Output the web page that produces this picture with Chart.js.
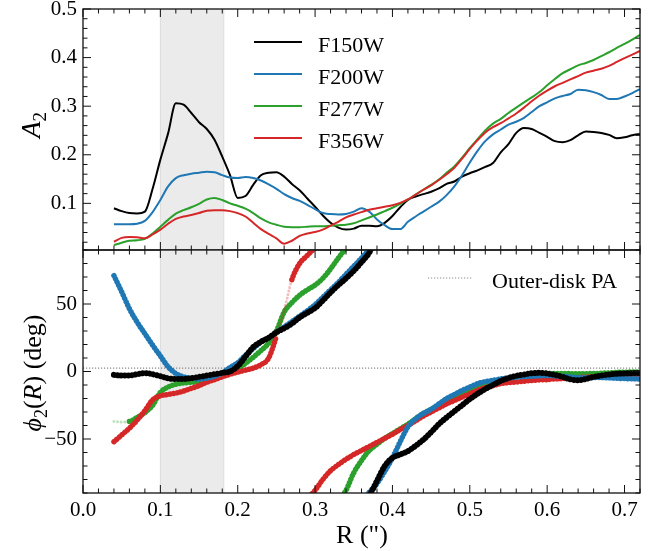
<!DOCTYPE html>
<html>
<head>
<meta charset="utf-8">
<script src="https://cdn.jsdelivr.net/npm/chart.js@4.4.1/dist/chart.umd.min.js"></script>
<style>
  html, body { margin: 0; padding: 0; background: #fff; }
  #wrap { position: relative; width: 663px; height: 551px; }
  canvas { position: absolute; left: 0; }
  #ampChart { top: 0; }
  #phaseChart { top: 249px; }
</style>
</head>
<body>
<div id="wrap">
  <canvas id="ampChart" width="663" height="251"></canvas>
  <canvas id="phaseChart" width="663" height="302"></canvas>
</div>
<script>
// radial sampling grid, arcsec (0.04 ... 0.72)
const radius = Array.from({ length: 69 }, (_, i) => Math.round((0.04 + 0.01 * i) * 100) / 100);

// m=2 Fourier amplitude A2 per filter
const ampF150W = [0.090, 0.084, 0.080, 0.079, 0.083, 0.130,
  0.190, 0.244, 0.306, 0.303, 0.286, 0.267, 0.253, 0.231, 0.196, 0.158,
  0.111, 0.115, 0.138, 0.158, 0.163, 0.164, 0.155, 0.140, 0.127, 0.110,
  0.093, 0.075, 0.060, 0.050, 0.046, 0.048, 0.054, 0.054, 0.053, 0.060,
  0.074, 0.092, 0.107, 0.114, 0.119, 0.124, 0.131, 0.140, 0.145, 0.155,
  0.162, 0.168, 0.175, 0.183, 0.205, 0.222, 0.245, 0.255, 0.253, 0.245,
  0.237, 0.228, 0.226, 0.230, 0.240, 0.248, 0.247, 0.245, 0.241, 0.234,
  0.236, 0.240, 0.243];
const ampF200W = [0.057, 0.057, 0.057, 0.058, 0.064, 0.082,
  0.107, 0.135, 0.152, 0.158, 0.161, 0.163, 0.165, 0.164, 0.158, 0.153,
  0.152, 0.154, 0.152, 0.147, 0.139, 0.130, 0.119, 0.111, 0.105, 0.097,
  0.088, 0.080, 0.078, 0.077, 0.078, 0.083, 0.090, 0.083, 0.067, 0.055,
  0.047, 0.047, 0.062, 0.073, 0.083, 0.093, 0.103, 0.117, 0.135, 0.158,
  0.184, 0.208, 0.228, 0.242, 0.252, 0.262, 0.268, 0.276, 0.288, 0.300,
  0.308, 0.316, 0.321, 0.325, 0.334, 0.333, 0.329, 0.323, 0.315, 0.315,
  0.320, 0.327, 0.335];
const ampF277W = [0.014, 0.019, 0.023, 0.024, 0.027, 0.038,
  0.052, 0.066, 0.079, 0.086, 0.092, 0.099, 0.108, 0.111, 0.107, 0.100,
  0.095, 0.089, 0.080, 0.069, 0.061, 0.056, 0.052, 0.051, 0.051, 0.052,
  0.053, 0.053, 0.054, 0.055, 0.056, 0.059, 0.065, 0.071, 0.077, 0.084,
  0.091, 0.099, 0.108, 0.118, 0.128, 0.138, 0.149, 0.163, 0.176, 0.194,
  0.214, 0.232, 0.250, 0.264, 0.274, 0.286, 0.297, 0.308, 0.318, 0.329,
  0.343, 0.356, 0.368, 0.376, 0.384, 0.389, 0.395, 0.403, 0.411, 0.420,
  0.428, 0.437, 0.447];
const ampF356W = [0.021, 0.029, 0.031, 0.030, 0.028, 0.036,
  0.046, 0.058, 0.068, 0.073, 0.076, 0.080, 0.085, 0.086, 0.086, 0.084,
  0.080, 0.073, 0.060, 0.047, 0.037, 0.028, 0.017, 0.023, 0.033, 0.038,
  0.041, 0.046, 0.054, 0.062, 0.071, 0.077, 0.082, 0.087, 0.090, 0.093,
  0.096, 0.101, 0.108, 0.118, 0.128, 0.137, 0.148, 0.160, 0.173, 0.192,
  0.212, 0.230, 0.246, 0.257, 0.265, 0.275, 0.285, 0.297, 0.310, 0.322,
  0.332, 0.341, 0.348, 0.355, 0.362, 0.369, 0.373, 0.377, 0.383, 0.391,
  0.399, 0.406, 0.414];

// m=2 phase angle, deg, kept unwrapped (folded into [-90, 90] when drawn)
const phiF150W = [-2.5, -3, -3, -2, -1.2, -2,
  -3.5, -5, -5.5, -5.5, -5, -4, -3, -2, -1, 0,
  4, 11, 18, 22, 25, 29, 32, 35.5, 40, 43.5,
  47, 52.5, 58.5, 64, 69, 74.5, 81, 88, 99, 110,
  116, 118.5, 121, 125, 129.5, 135, 141, 146, 150.5, 155,
  159.5, 163.5, 167, 170, 173, 175.2, 176.8, 177.8, 178.7, 179,
  178.5, 177.5, 176, 174.2, 173.5, 174.5, 176, 177, 177.8, 178.3,
  178.6, 178.8, 178.8];
const phiF200W = [71, 59, 46.5, 36.5, 28, 19.5,
  11.5, 3.5, -1.5, -4, -5, -5.5, -5, -3.5, -1, 3,
  6.5, 12, 17, 22, 25, 29, 33, 37, 41, 45,
  49.5, 55, 60.5, 66, 72, 78, 84, 90.5, 97, 106,
  116, 128, 139, 145, 149, 152, 156, 160, 163, 166,
  168.5, 171, 172.5, 173.5, 174.5, 175.2, 175.8, 176.2, 176.5, 176.8,
  177, 176.8, 176.5, 176, 175.5, 175.3, 175.5, 175.5, 175.3, 175,
  174.8, 174.6, 174.5];
const phiF277W = [-37, -37.5, -37, -34, -30.5, -25,
  -15.5, -11.5, -9.5, -8.5, -8, -7.5, -6, -4.5, -3, -1,
  2, 6, 10.5, 15.5, 21, 30, 44, 51, 56.5, 60.5,
  64, 69, 76, 84, 92, 105, 114, 121.5, 126, 130.5,
  134, 137.5, 141, 145, 149, 152, 155, 157.5, 160.5, 163,
  166, 168.5, 170.5, 172, 173.5, 174.8, 176, 177, 177.5, 178,
  178.5, 178.5, 178.5, 178.4, 178.3, 178.4, 178.5, 178.7, 179, 179.3,
  179.5, 179.6, 179.7];
const phiF356W = [-52, -47, -42, -36, -29, -21,
  -18, -17, -16, -14.5, -12.5, -10.5, -8, -6, -4, -2,
  -0.5, 1, 2.5, 5, 10, 26, 45, 68, 80, 86,
  92, 100, 106.5, 111, 115, 118.5, 121.5, 124.5, 127.5, 130.5,
  133.5, 137, 140, 143.5, 147, 150, 153, 156, 158.5, 161,
  163.5, 166, 168, 169.5, 171, 171.7, 172.2, 172.8, 173.3, 173.8,
  174, 174.5, 174.8, 175.2, 175.6, 175.8, 176, 176.2, 176.5, 176.7,
  176.8, 177, 177];

const filters = ['F150W', 'F200W', 'F277W', 'F356W'];
const ampSeries = [ampF150W, ampF200W, ampF277W, ampF356W];
const phiSeries = [phiF150W, phiF200W, phiF277W, phiF356W];
const barRange = [0.1, 0.182];   // shaded radial interval
const outerDiskPA = 2.5;         // deg
const faintAmp = 0.02;           // phases below this A2 are drawn faint

const colors = ['#000000', '#1f77b4', '#2ca02c', '#d62728'];
const SERIF = '"Liberation Serif", "Times New Roman", "DejaVu Serif", serif';
Chart.defaults.font.family = SERIF;
Chart.defaults.color = '#000';

function fade(hex, a) {
  const n = parseInt(hex.slice(1), 16);
  return `rgba(${n >> 16}, ${(n >> 8) & 255}, ${n & 255}, ${a})`;
}

function tickValues(min, max, step) {
  const out = [];
  for (let k = Math.ceil(min / step - 1e-9); k * step <= max + 1e-9; k++) {
    out.push(Math.round(k * step * 1e6) / 1e6);
  }
  return out;
}

// keep the plot box fixed: no extra room for overhanging tick labels
function fixBox(s, size) {
  if (s.isHorizontal()) s.height = size; else s.width = size;
  s.paddingTop = 0; s.paddingBottom = 0;
  s.paddingLeft = 0; s.paddingRight = 0;
}

// grey band behind the data
const shadePlugin = {
  id: 'shade',
  beforeDatasetsDraw(chart) {
    const { ctx, chartArea: a, scales: { x } } = chart;
    const x0 = x.getPixelForValue(barRange[0]);
    const x1 = x.getPixelForValue(barRange[1]);
    ctx.save();
    ctx.fillStyle = '#ebebeb';
    ctx.fillRect(x0, a.top, x1 - x0, a.bottom - a.top);
    ctx.strokeStyle = '#dcdcdc';
    ctx.lineWidth = 1;
    ctx.beginPath();
    ctx.moveTo(x0, a.top); ctx.lineTo(x0, a.bottom);
    ctx.moveTo(x1, a.top); ctx.lineTo(x1, a.bottom);
    ctx.stroke();
    ctx.restore();
  }
};

// closed frame with inward major/minor ticks on every side
const framePlugin = {
  id: 'frame',
  afterDatasetsDraw(chart, args, opts) {
    const { ctx, chartArea: a, scales: { x, y } } = chart;
    ctx.save();
    ctx.strokeStyle = '#111';
    ctx.lineWidth = 1;
    ctx.beginPath();
    tickValues(x.min, x.max, opts.xMinor).forEach(v => {
      const major = Math.abs(v / opts.xMajor - Math.round(v / opts.xMajor)) < 1e-6;
      const len = major ? 8 : 4.5;
      const px = x.getPixelForValue(v);
      ctx.moveTo(px, a.bottom); ctx.lineTo(px, a.bottom - len);
      ctx.moveTo(px, a.top); ctx.lineTo(px, a.top + len);
    });
    tickValues(y.min, y.max, opts.yMinor).forEach(v => {
      const major = Math.abs(v / opts.yMajor - Math.round(v / opts.yMajor)) < 1e-6;
      const len = major ? 8 : 4.5;
      const py = y.getPixelForValue(v);
      ctx.moveTo(a.left, py); ctx.lineTo(a.left + len, py);
      ctx.moveTo(a.right, py); ctx.lineTo(a.right - len, py);
    });
    ctx.stroke();
    ctx.lineWidth = 1.3;
    ctx.strokeRect(a.left, a.top, a.right - a.left, a.bottom - a.top);
    ctx.restore();
  }
};

// legend inside the plot, entries taken from labelled datasets
const insetLegend = {
  id: 'insetLegend',
  afterDraw(chart, args, o) {
    const { ctx } = chart;
    const items = chart.data.datasets.filter(d => d.label);
    ctx.save();
    ctx.font = `${o.size}px ${SERIF}`;
    ctx.textBaseline = 'alphabetic';
    items.forEach((d, i) => {
      const yy = o.y + i * o.dy;
      ctx.strokeStyle = d.borderColor;
      ctx.lineWidth = o.lineWidth;
      ctx.setLineDash(o.dashed ? d.borderDash : []);
      ctx.beginPath();
      ctx.moveTo(o.x0, yy); ctx.lineTo(o.x1, yy);
      ctx.stroke();
      ctx.fillStyle = '#000';
      ctx.fillText(d.label, o.textX, yy + o.baseline);
    });
    ctx.restore();
  }
};

// axis titles with mixed italic / subscript runs
function drawRich(ctx, t) {
  ctx.save();
  ctx.translate(t.x, t.y);
  if (t.rotate) ctx.rotate(-Math.PI / 2);
  const fontOf = p => `${p.italic ? 'italic ' : ''}${p.sub ? Math.round(t.size * 0.7) : t.size}px ${SERIF}`;
  let total = 0;
  const runs = t.parts.map(p => {
    ctx.font = fontOf(p);
    const w = ctx.measureText(p.t).width;
    total += w;
    return { ...p, w };
  });
  let pos = -total / 2;
  ctx.fillStyle = '#000';
  ctx.textBaseline = 'alphabetic';
  runs.forEach(r => {
    ctx.font = fontOf(r);
    ctx.fillText(r.t, pos, r.sub ? t.size * 0.22 : 0);
    pos += r.w;
  });
  ctx.restore();
}
const titlesPlugin = {
  id: 'titles',
  afterDraw(chart, args, o) {
    o.items.forEach(t => drawRich(chart.ctx, t));
  }
};

const tickFont = { family: SERIF, size: 21 };

// upper panel: A2(R)
new Chart(document.getElementById('ampChart'), {
  type: 'line',
  data: {
    datasets: filters.map((f, k) => ({
      label: f,
      data: radius.map((r, i) => ({ x: r, y: ampSeries[k][i] })),
      borderColor: colors[k],
      borderWidth: 2,
      pointRadius: 0,
      cubicInterpolationMode: 'monotone',
      order: 3 - k
    }))
  },
  options: {
    responsive: false,
    animation: false,
    events: [],
    layout: { padding: { top: 9, right: 23, bottom: 1, left: 0 } },
    scales: {
      x: { type: 'linear', min: 0, max: 0.72, display: false },
      y: {
        min: 0.004, max: 0.5,
        grid: { display: false, drawTicks: false },
        border: { display: false },
        afterFit(s) { fixBox(s, 83); },
        afterBuildTicks(s) { s.ticks = tickValues(0.1, 0.5, 0.1).map(v => ({ value: v })); },
        ticks: { padding: 6, font: tickFont, color: '#000', callback: v => v.toFixed(1) }
      }
    },
    plugins: {
      legend: { display: false },
      tooltip: { enabled: false },
      frame: { xMajor: 0.1, xMinor: 0.02, yMajor: 0.1, yMinor: 0.02 },
      insetLegend: { x0: 254, x1: 302, textX: 318, y: 42, dy: 32, baseline: 9.5, size: 22, lineWidth: 2, dashed: false },
      titles: { items: [{ x: 40, y: 125, size: 27, rotate: true, parts: [{ t: 'A', italic: true }, { t: '2', sub: true }] }] }
    }
  },
  plugins: [shadePlugin, framePlugin, insetLegend, titlesPlugin]
});

// lower panel: phase angle, each filter drawn as-is and folded by 180 deg
const phaseOrder = [0, 1, 3, 2];
const phaseSets = [];
filters.forEach((f, k) => {
  [0, -180].forEach(shift => {
    const amp = ampSeries[k];
    const faint = c => amp[c.p0DataIndex] < faintAmp || amp[c.p1DataIndex] < faintAmp;
    phaseSets.push({
      data: radius.map((r, i) => ({ x: r, y: phiSeries[k][i] + shift })),
      borderColor: colors[k],
      borderWidth: k === 0 ? 6 : 5.5,
      borderDash: [0.01, 3.6],
      borderCapStyle: 'round',
      pointRadius: 0,
      cubicInterpolationMode: 'monotone',
      clip: 0,
      order: phaseOrder[k],
      segment: {
        borderColor: c => (faint(c) ? fade(colors[k], 0.3) : undefined),
        borderWidth: c => (faint(c) ? 3 : undefined)
      }
    });
  });
});
phaseSets.push({
  label: 'Outer-disk PA',
  data: [{ x: 0, y: outerDiskPA }, { x: 0.72, y: outerDiskPA }],
  borderColor: '#8a8a8a',
  borderWidth: 1.2,
  borderDash: [1.2, 1.8],
  pointRadius: 0,
  order: 9
});

new Chart(document.getElementById('phaseChart'), {
  type: 'line',
  data: { datasets: phaseSets },
  options: {
    responsive: false,
    animation: false,
    events: [],
    layout: { padding: { top: 1, right: 23, bottom: 0, left: 0 } },
    scales: {
      x: {
        type: 'linear', min: 0, max: 0.72,
        grid: { display: false, drawTicks: false },
        border: { display: false },
        afterFit(s) { fixBox(s, 58); },
        afterBuildTicks(s) { s.ticks = tickValues(0, 0.7, 0.1).map(v => ({ value: v })); },
        ticks: { padding: 5, font: tickFont, color: '#000', maxRotation: 0, autoSkip: false, callback: v => v.toFixed(1) }
      },
      y: {
        min: -90, max: 90,
        grid: { display: false, drawTicks: false },
        border: { display: false },
        afterFit(s) { fixBox(s, 83); },
        afterBuildTicks(s) { s.ticks = [-50, 0, 50].map(v => ({ value: v })); },
        ticks: { padding: 6, font: tickFont, color: '#000', callback: v => (v < 0 ? '\u2212' + Math.abs(v) : String(v)) }
      }
    },
    plugins: {
      legend: { display: false },
      tooltip: { enabled: false },
      frame: { xMajor: 0.1, xMinor: 0.02, yMajor: 50, yMinor: 10 },
      insetLegend: { x0: 428, x1: 473, textX: 492, y: 29, dy: 0, baseline: 10, size: 22, lineWidth: 1.2, dashed: true },
      titles: { items: [
        { x: 41, y: 124, size: 26, rotate: true, parts: [
          { t: '\u03d5', italic: true }, { t: '2', sub: true }, { t: '(' }, { t: 'R', italic: true }, { t: ') (deg)' }
        ] },
        { x: 362, y: 294, size: 26, rotate: false, parts: [{ t: 'R (")' }] }
      ] }
    }
  },
  plugins: [shadePlugin, framePlugin, insetLegend, titlesPlugin]
});
</script>
</body>
</html>
